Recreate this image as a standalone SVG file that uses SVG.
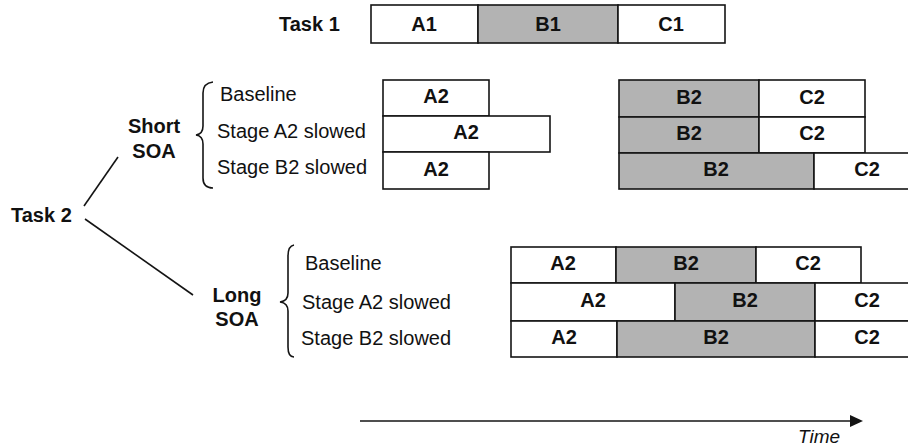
<svg xmlns="http://www.w3.org/2000/svg" width="908" height="448" viewBox="0 0 908 448">
  <style>
    .w { fill: #ffffff; stroke: #141414; stroke-width: 1.6; }
    .g { fill: #b3b3b3; stroke: #141414; stroke-width: 1.6; }
    .bl { font-family: "Liberation Sans", Arial, sans-serif; font-weight: bold; font-size: 20px; fill: #111; text-anchor: middle; }
    .hd { font-family: "Liberation Sans", Arial, sans-serif; font-weight: bold; font-size: 20px; fill: #111; }
    .rl { font-family: "Liberation Sans", Arial, sans-serif; font-size: 20px; fill: #111; }
    .ln { fill: none; stroke: #141414; stroke-width: 1.6; }
  </style>
  <rect width="908" height="448" fill="#ffffff"/>

  <!-- Task 1 -->
  <g id="task1">
    <text class="hd" x="279" y="31">Task 1</text>
    <rect class="w" x="371" y="5" width="107" height="38"/>
    <rect class="g" x="478" y="5" width="140" height="38"/>
    <rect class="w" x="618" y="5" width="107" height="38"/>
    <text class="bl" x="424" y="31">A1</text>
    <text class="bl" x="548" y="31">B1</text>
    <text class="bl" x="671" y="31">C1</text>
  </g>

  <!-- Task 2 label -->
  <g id="task2">
    <text class="hd" x="11" y="222">Task 2</text>
  </g>

  <!-- Short SOA labels -->
  <g id="short-soa">
    <text class="bl" x="154" y="133">Short</text>
    <text class="bl" x="154" y="158">SOA</text>
    <path class="ln" d="M213,82 Q203,83 203,93 L203,126 Q203,134 196,135 Q203,136 203,144 L203,178 Q203,188 213,188"/>
    <text class="rl" x="220" y="101">Baseline</text>
    <text class="rl" x="217" y="138">Stage A2 slowed</text>
    <text class="rl" x="217" y="174">Stage B2 slowed</text>
  </g>

  <!-- Short SOA bars -->
  <g id="short-baseline">
    <rect class="w" x="383" y="80" width="106" height="36"/>
    <text class="bl" x="436" y="103">A2</text>
    <rect class="g" x="619" y="80" width="140" height="37"/>
    <rect class="w" x="759" y="80" width="106" height="37"/>
    <text class="bl" x="689" y="104">B2</text>
    <text class="bl" x="812" y="104">C2</text>
  </g>
  <g id="short-a2-slowed">
    <rect class="w" x="383" y="116" width="167" height="36"/>
    <text class="bl" x="466" y="139">A2</text>
    <rect class="g" x="619" y="117" width="140" height="36"/>
    <rect class="w" x="759" y="117" width="106" height="36"/>
    <text class="bl" x="689" y="140">B2</text>
    <text class="bl" x="812" y="140">C2</text>
  </g>
  <g id="short-b2-slowed">
    <rect class="w" x="383" y="152" width="106" height="37"/>
    <text class="bl" x="436" y="176">A2</text>
    <rect class="g" x="619" y="153" width="195" height="36"/>
    <rect class="w" x="814" y="153" width="100" height="36"/>
    <text class="bl" x="716" y="176">B2</text>
    <text class="bl" x="867" y="176">C2</text>
  </g>

  <!-- Long SOA labels -->
  <g id="long-soa">
    <text class="bl" x="237" y="302">Long</text>
    <text class="bl" x="237" y="326">SOA</text>
    <path class="ln" d="M294,245 Q288,246 288,256 L288,293 Q288,301 280,302 Q288,303 288,311 L288,347 Q288,357 294,357"/>
    <text class="rl" x="305" y="270">Baseline</text>
    <text class="rl" x="302" y="309">Stage A2 slowed</text>
    <text class="rl" x="301" y="345">Stage B2 slowed</text>
  </g>

  <!-- Long SOA bars -->
  <g id="long-baseline">
    <rect class="w" x="511" y="247" width="105" height="36"/>
    <rect class="g" x="616" y="247" width="140" height="36"/>
    <rect class="w" x="756" y="247" width="105" height="36"/>
    <text class="bl" x="563" y="270">A2</text>
    <text class="bl" x="686" y="270">B2</text>
    <text class="bl" x="808" y="270">C2</text>
  </g>
  <g id="long-a2-slowed">
    <rect class="w" x="511" y="283" width="164" height="38"/>
    <rect class="g" x="675" y="283" width="140" height="38"/>
    <rect class="w" x="815" y="283" width="100" height="38"/>
    <text class="bl" x="593" y="307">A2</text>
    <text class="bl" x="745" y="307">B2</text>
    <text class="bl" x="867" y="307">C2</text>
  </g>
  <g id="long-b2-slowed">
    <rect class="w" x="511" y="321" width="106" height="36"/>
    <rect class="g" x="617" y="321" width="198" height="36"/>
    <rect class="w" x="815" y="321" width="100" height="36"/>
    <text class="bl" x="564" y="344">A2</text>
    <text class="bl" x="716" y="344">B2</text>
    <text class="bl" x="867" y="344">C2</text>
  </g>

  <!-- Connectors -->
  <g id="connectors">
    <line class="ln" x1="84" y1="206" x2="118" y2="157"/>
    <line class="ln" x1="85" y1="219" x2="193" y2="295"/>
    <line class="ln" x1="360" y1="421" x2="851" y2="421" stroke-width="2"/>
    <polygon points="850,415 863,421 850,427" fill="#141414"/>
  </g>

  <text x="798" y="443" font-family="'Liberation Sans', Arial, sans-serif" font-style="italic" font-size="19px" fill="#111">Time</text>
</svg>
